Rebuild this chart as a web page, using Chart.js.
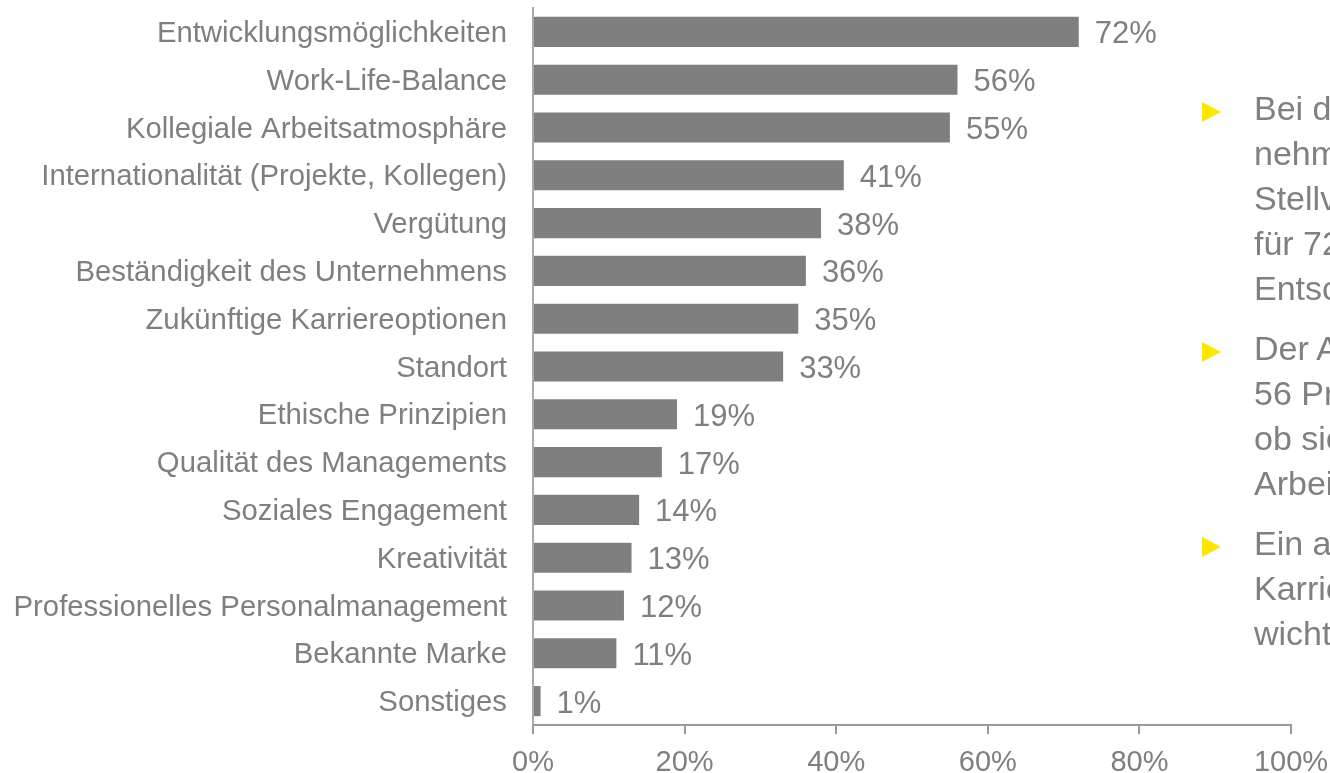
<!DOCTYPE html>
<html>
<head>
<meta charset="utf-8">
<script src="https://cdn.jsdelivr.net/npm/chart.js@4.4.1/dist/chart.umd.min.js"></script>
<style>
  html, body { margin:0; padding:0; width:1330px; height:773px; overflow:hidden; background:#fff; }
  #wrap { position:absolute; left:0; top:0; width:1330px; height:773px; }
  #notes { position:absolute; left:1200px; top:86px; width:130px; height:600px; overflow:hidden;
           font-family:"Liberation Sans", Arial, sans-serif; font-size:34px; line-height:45px; color:#808080; }
  .item { position:relative; padding-left:54px; white-space:nowrap; margin-bottom:15px; }
  .item::before { content:""; position:absolute; left:2px; top:16px; width:0; height:0;
           border-top:10px solid transparent; border-bottom:10px solid transparent; border-left:19px solid #FFE600; }
</style>
</head>
<body>
<div id="wrap"><canvas id="c" width="1330" height="773"></canvas></div>
<div id="notes">
  <div class="item">Bei der Wahl<br>nehmen<br>Stellvertreter<br>für 72 Prozent<br>Entscheidung</div>
  <div class="item">Der Aspekt<br>56 Prozent<br>ob sie<br>Arbeitgeber</div>
  <div class="item">Ein attraktives<br>Karriere<br>wichtig</div>
</div>
<script>
const categories = [
  "Entwicklungsmöglichkeiten",
  "Work-Life-Balance",
  "Kollegiale Arbeitsatmosphäre",
  "Internationalität (Projekte, Kollegen)",
  "Vergütung",
  "Beständigkeit des Unternehmens",
  "Zukünftige Karriereoptionen",
  "Standort",
  "Ethische Prinzipien",
  "Qualität des Managements",
  "Soziales Engagement",
  "Kreativität",
  "Professionelles Personalmanagement",
  "Bekannte Marke",
  "Sonstiges"
];
const values = [72, 56, 55, 41, 38, 36, 35, 33, 19, 17, 14, 13, 12, 11, 1];
const xTicks = [0, 20, 40, 60, 80, 100];

const FONT = '"Liberation Sans", Arial, sans-serif';
const GREY = '#7f7f7f';

const valueLabels = {
  id: 'valueLabels',
  afterDatasetsDraw(chart) {
    const ctx = chart.ctx;
    const meta = chart.getDatasetMeta(0);
    ctx.save();
    ctx.font = '31px ' + FONT;
    ctx.fillStyle = GREY;
    ctx.textAlign = 'left';
    ctx.textBaseline = 'middle';
    meta.data.forEach((bar, i) => {
      ctx.fillText(values[i] + '%', bar.x + 16, bar.y + 3);
    });
    ctx.restore();
  }
};

new Chart(document.getElementById('c'), {
  type: 'bar',
  data: {
    labels: categories,
    datasets: [{
      data: values,
      backgroundColor: GREY,
      borderWidth: 0,
      barPercentage: 0.63,
      categoryPercentage: 1.0
    }]
  },
  options: {
    indexAxis: 'y',
    responsive: false,
    animation: false,
    layout: { padding: { left: 0, right: 39, top: 8, bottom: 0 } },
    plugins: { legend: { display: false }, tooltip: { enabled: false } },
    scales: {
      x: {
        min: 0, max: 100,
        afterBuildTicks(axis) { axis.ticks = xTicks.map(v => ({ value: v })); },
        afterFit(axis) { axis.height = 48; axis.paddingLeft = 0; axis.paddingRight = 0; },
        grid: { display: true, drawOnChartArea: false, drawTicks: true, tickLength: 9, color: '#999999', lineWidth: 2 },
        border: { display: true, color: '#999999', width: 2 },
        ticks: { color: GREY, font: { family: FONT, size: 29 }, padding: 12, callback: v => v + '%' }
      },
      y: {
        afterFit(axis) { axis.width = 533; axis.paddingTop = 0; axis.paddingBottom = 0; },
        grid: { display: false, drawTicks: false },
        border: { display: true, color: '#aaaaaa', width: 2 },
        ticks: { color: GREY, font: { family: FONT, size: 29.3 }, padding: 26, labelOffset: 2, autoSkip: false }
      }
    }
  },
  plugins: [valueLabels]
});
</script>
</body>
</html>
